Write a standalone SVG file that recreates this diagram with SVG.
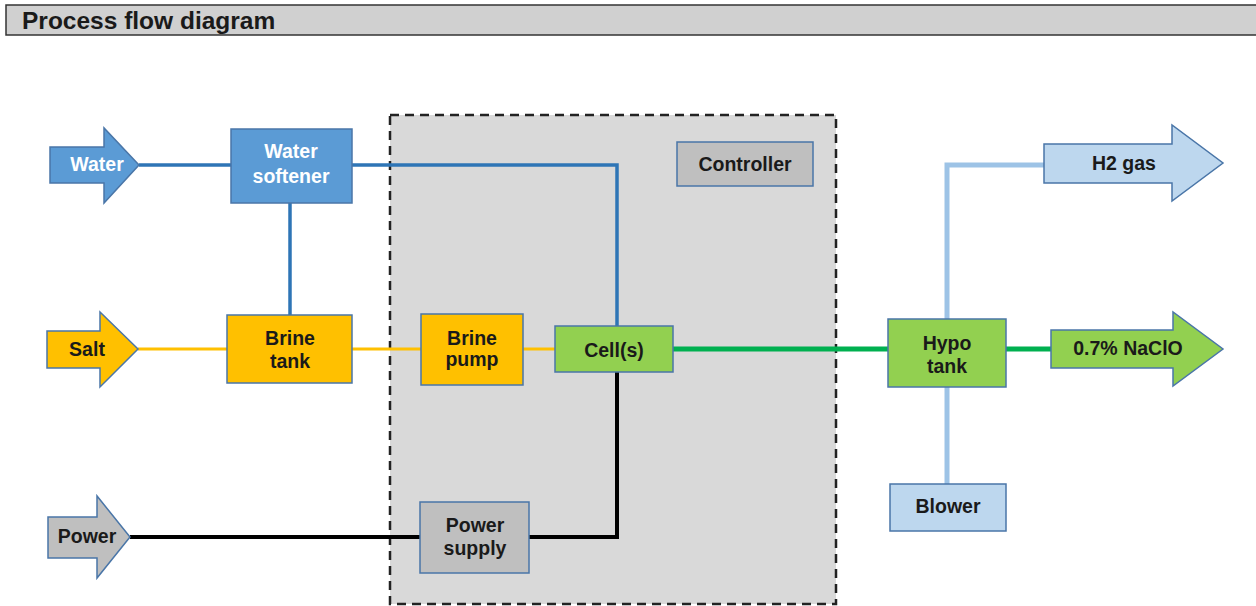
<svg xmlns="http://www.w3.org/2000/svg" width="1256" height="606" viewBox="0 0 1256 606">
<style>
text{font-family:"Liberation Sans",Arial,sans-serif;font-weight:bold;font-size:19.5px;fill:#1a1a1a;text-anchor:middle}
.w{fill:#ffffff}
.box{stroke:#4a76a8;stroke-width:1.5}
.blue{fill:#5b9bd5}
.orange{fill:#ffc000}
.green{fill:#92d050}
.gray{fill:#bfbfbf}
.lblue{fill:#bdd7ee}
.ln{fill:none;stroke-linejoin:miter}
</style>
<rect width="1256" height="606" fill="#ffffff"/>
<g id="title">
<rect x="6" y="5" width="1256" height="30" fill="#d0d0d0" stroke="#333" stroke-width="1.5"/>
<text x="22" y="29" style="text-anchor:start;font-size:24.5px">Process flow diagram</text>
</g>
<g id="boundary">
<rect x="390" y="115" width="446" height="489" fill="#d9d9d9" stroke="#222" stroke-width="2.5" stroke-dasharray="9 6"/>
</g>
<g id="connectors">
<polyline class="ln" points="139,165 231,165" stroke="#2e75b6" stroke-width="3.5"/>
<polyline class="ln" points="352,165 617,165 617,326" stroke="#2e75b6" stroke-width="3.5"/>
<polyline class="ln" points="290,203 290,315" stroke="#2e75b6" stroke-width="3.5"/>
<polyline class="ln" points="138,349 227,349" stroke="#ffc000" stroke-width="3"/>
<polyline class="ln" points="352,349 421,349" stroke="#ffc000" stroke-width="3"/>
<polyline class="ln" points="523,349 555,349" stroke="#ffc000" stroke-width="3"/>
<polyline class="ln" points="673,349 888,349" stroke="#00b050" stroke-width="5"/>
<polyline class="ln" points="1006,349 1051,349" stroke="#00b050" stroke-width="5"/>
<polyline class="ln" points="947,319 947,165 1044,165" stroke="#9dc3e6" stroke-width="5"/>
<polyline class="ln" points="947,387 947,484" stroke="#9dc3e6" stroke-width="5"/>
<polyline class="ln" points="130,537 420,537" stroke="#000" stroke-width="4"/>
<polyline class="ln" points="529,537 617,537 617,372" stroke="#000" stroke-width="4"/>
</g>
<g id="water">
<polygon class="box blue" points="50,147 104,147 104,128 139,165 104,203 104,183 50,183"/>
<text class="w" x="97" y="171">Water</text>
</g>
<g id="salt">
<polygon class="box orange" points="47,331 100,331 100,312 138,349 100,387 100,368 47,368"/>
<text x="87" y="356">Salt</text>
</g>
<g id="power">
<polygon class="box gray" points="48,517 97,517 97,496 130,537 97,578 97,558 48,558"/>
<text x="87" y="543">Power</text>
</g>
<g id="water-softener">
<rect class="box blue" x="231" y="129" width="121" height="74"/>
<text class="w" x="291" y="158">Water</text>
<text class="w" x="291" y="183">softener</text>
</g>
<g id="brine-tank">
<rect class="box orange" x="227" y="315" width="125" height="68"/>
<text x="290" y="345">Brine</text>
<text x="290" y="368">tank</text>
</g>
<g id="brine-pump">
<rect class="box orange" x="421" y="314" width="102" height="71"/>
<text x="472" y="345">Brine</text>
<text x="472" y="366">pump</text>
</g>
<g id="cells">
<rect class="box green" x="555" y="326" width="118" height="46"/>
<text x="614" y="357">Cell(s)</text>
</g>
<g id="controller">
<rect class="box gray" x="677" y="142" width="136" height="44"/>
<text x="745" y="171">Controller</text>
</g>
<g id="power-supply">
<rect class="box gray" x="420" y="502" width="109" height="71"/>
<text x="475" y="532">Power</text>
<text x="475" y="555">supply</text>
</g>
<g id="hypo-tank">
<rect class="box green" x="888" y="319" width="118" height="68"/>
<text x="947" y="350">Hypo</text>
<text x="947" y="373">tank</text>
</g>
<g id="blower">
<rect class="box lblue" x="890" y="484" width="116" height="47"/>
<text x="948" y="513">Blower</text>
</g>
<g id="h2-gas">
<polygon class="box lblue" points="1044,144 1172,144 1172,125 1223,163 1172,201 1172,183 1044,183"/>
<text x="1124" y="170">H2 gas</text>
</g>
<g id="naclo">
<polygon class="box green" points="1051,330 1173,330 1173,312 1223,349 1173,386 1173,368 1051,368"/>
<text x="1128" y="355">0.7% NaClO</text>
</g>
</svg>
